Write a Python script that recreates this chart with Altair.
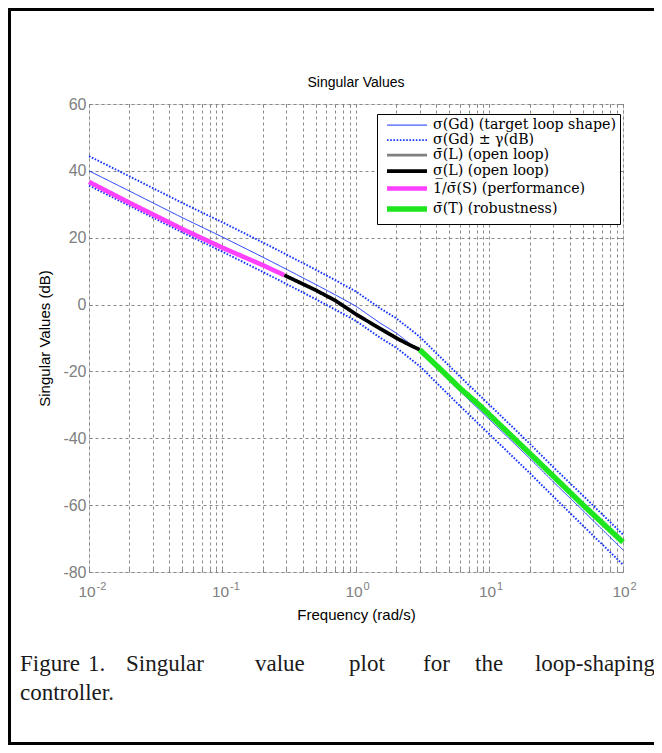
import altair as alt
import pandas as pd

# ---------------- data ----------------
freq_target = [0.01, 0.02, 0.05, 0.1, 0.2, 0.3, 0.5, 0.7, 1, 1.5, 2, 3, 4.2, 6, 10, 20, 30, 50, 100]
target_db = [40, 34, 26, 20.2, 14.2, 10.6, 6.0, 2.9, -0.5, -5.4, -8.5, -14.0, -19.8, -25.9, -34.4, -46.0, -53.0, -61.6, -73.4]
upper_db = [44.4, 38.4, 30.4, 24.6, 18.6, 15.0, 10.4, 7.3, 3.9, -1.0, -4.1, -9.6, -15.4, -21.5, -30.0, -41.6, -48.6, -57.1, -68.8]
lower_db = [35.6, 29.6, 21.6, 15.8, 9.8, 6.2, 1.6, -1.5, -4.9, -9.8, -12.9, -18.4, -24.2, -30.3, -38.8, -50.4, -57.4, -66.1, -77.8]

freq_perf = [0.01, 0.02, 0.05, 0.1, 0.2, 0.29]
perf_db = [36.7, 30.5, 22.6, 17.0, 11.8, 8.8]

freq_open = [0.29, 0.5, 0.7, 1, 1.5, 2, 2.5, 3]
open_db = [8.8, 4.3, 1.2, -2.9, -7.1, -10.0, -12.0, -13.5]

freq_rob = [3, 4.2, 6, 8.5, 10, 20, 30, 50, 100]
rob_db = [-13.5, -19.0, -25.0, -30.3, -33.0, -44.5, -51.3, -59.9, -71.1]

series = [
    "σ(Gd) (target loop shape)",
    "σ(Gd) ± γ(dB)",
    "σ̄(L) (open loop)",
    "σ̲(L) (open loop)",
    "1/σ̄(S) (performance)",
    "σ̄(T) (robustness)",
]
colors = ["#1434ff", "#1434ff", "#808080", "#000000", "#ff40ff", "#1ee61e"]
dashes = [[1, 0], [1.6, 1.6], [1, 0], [1, 0], [1, 0], [1, 0]]

major_ticks = [0.01, 0.1, 1, 10, 100]
minor_ticks = [k * 10.0 ** e for e in range(-2, 2) for k in range(2, 10)]
all_ticks = sorted(major_ticks + minor_ticks)
y_ticks = [-80, -60, -40, -20, 0, 20, 40, 60]

chart_title = "Singular Values"
caption_line1 = ["Figure", "1.", "Singular", "value", "plot", "for", "the", "loop-shaping"]
caption_line2 = ["controller."]

# ---------------- table ----------------
rows = []
def add(name, part, fs, vs):
    for f, v in zip(fs, vs):
        rows.append({"series": name, "part": part, "f": f, "db": v})

add(series[0], "a", freq_target, target_db)
add(series[1], "up", freq_target, upper_db)
add(series[1], "low", freq_target, lower_db)
add(series[2], "a", freq_open, open_db)
add(series[3], "a", freq_open, open_db)
add(series[4], "a", freq_perf, perf_db)
add(series[5], "a", freq_rob, rob_db)
df = pd.DataFrame(rows)
df_t = pd.DataFrame({"f": freq_target, "db": target_db})

GREY = "#808080"
SANS = "Liberation Sans"
SERIF = "Liberation Serif"

x_scale = alt.Scale(type="log", domain=[0.01, 100], nice=False)
y_scale = alt.Scale(domain=[-80, 60], nice=False, zero=False)

is_major = "abs(log(datum.value)/LN10 - round(log(datum.value)/LN10)) < 0.001"

leg = alt.Legend(
    orient="none", legendX=288, legendY=10, title=None,
    fillColor="white", strokeColor="black", padding=4, rowPadding=0,
    symbolType="M-0.4,0H7.6", symbolSize=100, labelOffset=36,
    labelFont="DejaVu Serif", labelFontSize=14.2, labelColor="black", labelLimit=400,
    cornerRadius=0,
)

lines = alt.Chart(df).mark_line(strokeCap="butt", strokeJoin="round").encode(
    x=alt.X("f:Q", scale=x_scale, axis=alt.Axis(
        orient="bottom",
        values=all_ticks, grid=True, ticks=False, domain=False,
        labelExpr=f"{is_major} ? '10' : ''", labelFont=SANS, labelFontSize=15.5,
        labelColor=GREY, labelPadding=12, labelBaseline="top", labelFlush=False,
        labelOffset=-2.5,
        labelOverlap=False, gridDash=[3, 3], gridColor="#8a8a8a", gridWidth=1,
        title="Frequency (rad/s)", titleFont=SANS, titleFontSize=15,
        titleFontWeight="normal", titleColor="black", titlePadding=8)),
    y=alt.Y("db:Q", scale=y_scale, axis=alt.Axis(
        orient="left",
        values=y_ticks, grid=True, ticks=False, domain=False,
        labelExpr="'' + datum.value", labelFont=SANS, labelFontSize=16,
        labelColor=GREY, labelPadding=3, labelFlush=False,
        gridDash=[3, 3], gridColor="#8a8a8a", gridWidth=1,
        title="Singular Values (dB)", titleFont=SANS, titleFontSize=15,
        titleFontWeight="normal", titleColor="black", titlePadding=10)),
    color=alt.Color("series:N", scale=alt.Scale(domain=series, range=colors), legend=leg),
    strokeDash=alt.StrokeDash("series:N", scale=alt.Scale(domain=series, range=dashes), legend=leg),
    strokeWidth=alt.StrokeWidth("series:N", scale=alt.Scale(type="point", domain=series, range=[1, 5.5], padding=0), legend=leg),
    detail="part:N",
)

# exponent labels of the decade ticks
expo = alt.Chart(df_t).mark_point(opacity=0).encode(
    x=alt.X("f:Q", scale=x_scale, axis=alt.Axis(
        orient="bottom",
        values=major_ticks, grid=False, ticks=False, domain=False,
        labelExpr="'' + round(log(datum.value)/LN10)", labelFont=SANS,
        labelFontSize=11, labelColor=GREY, labelPadding=8, labelBaseline="top",
        labelAlign="left", labelOffset=7, labelFlush=False, labelOverlap=False,
        title=None)),
    y=alt.Y("db:Q", scale=y_scale, axis=None),
)

# inward ticks: top & left
ticks_tl = alt.Chart(df_t).mark_point(opacity=0).encode(
    x=alt.X("f:Q", scale=x_scale, axis=alt.Axis(
        orient="top", offset=-3, values=all_ticks, tickSize=3, tickColor=GREY,
        labels=False, domain=False, grid=False, title=None)),
    y=alt.Y("db:Q", scale=y_scale, axis=alt.Axis(
        orient="left", offset=-3, values=y_ticks, tickSize=3, tickColor=GREY,
        labels=False, domain=False, grid=False, title=None)),
)
# inward ticks: bottom & right
ticks_br = alt.Chart(df_t).mark_point(opacity=0).encode(
    x=alt.X("f:Q", scale=x_scale, axis=alt.Axis(
        orient="bottom", offset=-3, values=all_ticks, tickSize=3, tickColor=GREY,
        labels=False, domain=False, grid=False, title=None)),
    y=alt.Y("db:Q", scale=y_scale, axis=alt.Axis(
        orient="right", offset=-3, values=y_ticks, tickSize=3, tickColor=GREY,
        labels=False, domain=False, grid=False, title=None)),
)

one = alt.Data(values=[{}])

title_mark = alt.Chart(one).mark_text(
    text=chart_title, font=SANS, fontSize=14, align="center", baseline="alphabetic", color="black"
).encode(x=alt.value(267), y=alt.value(-17))

border = alt.Chart(one).mark_rect(fillOpacity=0, stroke="black", strokeWidth=3).encode(
    x=alt.value(-79.5), x2=alt.value(700), y=alt.value(-94.5), y2=alt.value(639.5)
)

# caption words (justified first line)
cap_x1 = [-69, -1, 37, 166, 260, 334, 386, 566]
cap_layers = []
for i, w in enumerate(caption_line1):
    align = "right" if i == len(caption_line1) - 1 else "left"
    cap_layers.append(
        alt.Chart(one).mark_text(text=w, font=SERIF, fontSize=23, align=align,
                                 baseline="alphabetic", color="#1a1a1a").encode(
            x=alt.value(cap_x1[i]), y=alt.value(567))
    )
cap_layers.append(
    alt.Chart(one).mark_text(text=caption_line2[0], font=SERIF, fontSize=23, align="left",
                             baseline="alphabetic", color="#1a1a1a").encode(
        x=alt.value(-69), y=alt.value(596))
)

chart = alt.layer(lines, expo, ticks_tl, ticks_br, title_mark, border, *cap_layers).resolve_axis(
    x="independent", y="independent"
).properties(
    width=534, height=468,
    padding={"left": 81, "top": 96, "right": 31, "bottom": 173},
    autosize=alt.AutoSizeParams(type="none"),
).configure_view(stroke=GREY, strokeWidth=1.2).configure(background="white")

chart.save("out.html", embed_options={"renderer": "svg", "actions": False})
